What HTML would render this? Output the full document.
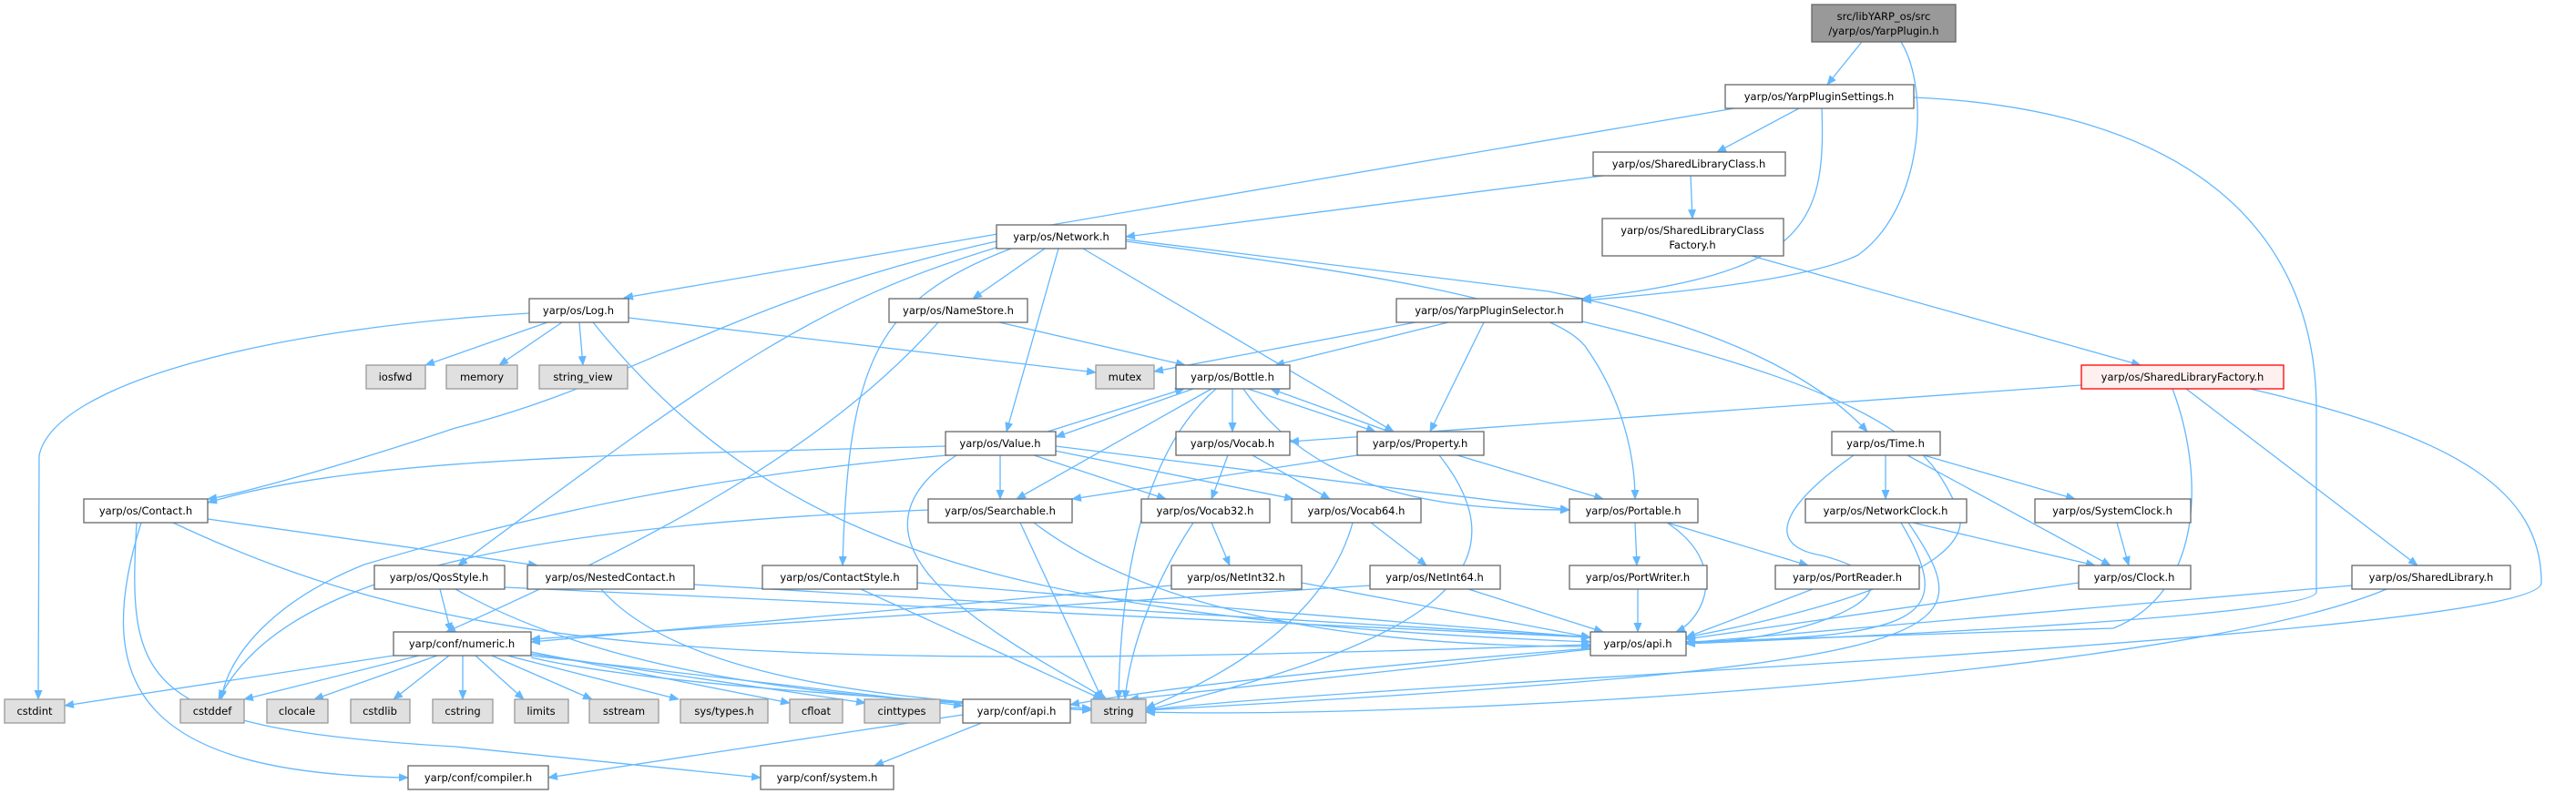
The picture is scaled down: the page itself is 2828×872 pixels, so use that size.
<!DOCTYPE html>
<html><head><meta charset="utf-8"><style>
html,body{margin:0;padding:0;background:#fff;}
svg{display:block;}
text{font-family:"DejaVu Sans","Liberation Sans",sans-serif;font-size:11.5px;fill:#000;text-anchor:middle;}
.e{fill:none;stroke:#63b8ff;stroke-width:1.3;marker-end:url(#a);}
.n{fill:#fff;stroke:#666;stroke-width:1.3;}
.g{fill:#e0e0e0;stroke:#999;stroke-width:1.3;}
</style></head><body>
<svg width="2828" height="872" viewBox="0 0 2828 872" xmlns="http://www.w3.org/2000/svg">
<defs><marker id="a" markerWidth="11" markerHeight="9" refX="10" refY="4.5" orient="auto" markerUnits="userSpaceOnUse"><path d="M0,0 L11,4.5 L0,9z" fill="#63b8ff"/></marker></defs>
<g>
<path class="e" d="M2044,46 L2006,93"/>
<path class="e" d="M2087,46 C2120,100 2110,230 2040,280 C1980,310 1800,325 1737,330"/>
<path class="e" d="M1904,119 L685,327"/>
<path class="e" d="M1975,119 L1885,167"/>
<path class="e" d="M2000,119 C2005,250 1980,300 1737,328"/>
<path class="e" d="M2101,107 C2400,120 2543,250 2543,450 L2543,650 C2543,680 1900,705 1851,707"/>
<path class="e" d="M1760,193 L1236,260"/>
<path class="e" d="M1856,193 L1858,240"/>
<path class="e" d="M1923,281 L2350,401"/>
<path class="e" d="M1094,265 C800,330 700,420 500,470 C350,520 250,545 228,548"/>
<path class="e" d="M1100,270 C900,330 800,400 503,621"/>
<path class="e" d="M1147,273 L1068,328"/>
<path class="e" d="M1162,273 L1105,474"/>
<path class="e" d="M1189,273 L1530,474"/>
<path class="e" d="M1236,265 C1500,300 1700,330 1740,380 C1790,450 1795,520 1795,548"/>
<path class="e" d="M1236,263 L1700,320 C1900,360 2000,420 2050,474"/>
<path class="e" d="M1110,273 C960,330 931,400 925,621"/>
<path class="e" d="M581,344 C300,360 60,420 43,500 L42,768"/>
<path class="e" d="M601,354 L467,401"/>
<path class="e" d="M617,354 L548,401"/>
<path class="e" d="M636,354 L640,401"/>
<path class="e" d="M690,349 L1203,409"/>
<path class="e" d="M651,354 C850,600 1100,680 1746,705"/>
<path class="e" d="M1097,354 L1301,401"/>
<path class="e" d="M1030,354 C900,500 700,600 490,694"/>
<path class="e" d="M1554,354 L1267,408"/>
<path class="e" d="M1590,354 L1400,401"/>
<path class="e" d="M1629,354 L1570,474"/>
<path class="e" d="M1737,353 C2100,440 2120,500 2150,560 C2180,640 1900,690 1851,700"/>
<path class="e" d="M2285,423 L1416,485"/>
<path class="e" d="M2385,427 C2420,520 2420,650 2320,690 L1851,705"/>
<path class="e" d="M2400,427 L2654,621"/>
<path class="e" d="M2470,427 C2700,480 2790,540 2790,640 C2790,700 1500,750 1258,780"/>
<path class="e" d="M1310,427 L1159,480"/>
<path class="e" d="M1150,474 L1300,427"/>
<path class="e" d="M1353,427 L1353,474"/>
<path class="e" d="M1370,427 L1510,474"/>
<path class="e" d="M1525,474 L1395,427"/>
<path class="e" d="M1330,427 L1116,548"/>
<path class="e" d="M1335,427 C1250,500 1230,650 1228,768"/>
<path class="e" d="M1365,427 C1450,550 1600,560 1723,560"/>
<path class="e" d="M1038,490 C700,500 400,500 228,552"/>
<path class="e" d="M1098,500 L1098,548"/>
<path class="e" d="M1135,500 L1280,548"/>
<path class="e" d="M1158,495 L1420,548"/>
<path class="e" d="M1159,490 L1723,560"/>
<path class="e" d="M1040,500 C800,520 600,560 400,620 C300,660 250,720 243,768"/>
<path class="e" d="M1050,500 C900,600 1100,700 1215,768"/>
<path class="e" d="M1348,500 L1330,548"/>
<path class="e" d="M1375,500 L1460,548"/>
<path class="e" d="M1490,500 L1177,548"/>
<path class="e" d="M1600,500 L1760,548"/>
<path class="e" d="M1580,500 C1700,650 1500,720 1258,780"/>
<path class="e" d="M2070,500 L2070,548"/>
<path class="e" d="M2112,500 L2278,548"/>
<path class="e" d="M2094,500 L2317,621"/>
<path class="e" d="M2035,500 C1950,560 1940,600 2000,610 C2150,650 1950,710 1851,705"/>
<path class="e" d="M228,570 L590,621"/>
<path class="e" d="M190,574 C500,720 800,740 1746,708"/>
<path class="e" d="M155,574 C100,750 150,850 448,854"/>
<path class="e" d="M150,574 C140,750 150,800 500,820 L835,854"/>
<path class="e" d="M1020,560 C500,580 300,650 240,768"/>
<path class="e" d="M1120,574 L1210,768"/>
<path class="e" d="M1135,574 C1300,700 1600,710 1746,710"/>
<path class="e" d="M1330,574 L1350,621"/>
<path class="e" d="M1310,574 C1260,650 1240,720 1235,768"/>
<path class="e" d="M1505,574 L1566,621"/>
<path class="e" d="M1485,574 C1450,700 1300,760 1258,778"/>
<path class="e" d="M1795,574 L1797,621"/>
<path class="e" d="M1830,574 L1985,621"/>
<path class="e" d="M1830,574 C1900,620 1870,680 1840,694"/>
<path class="e" d="M2100,574 L2300,621"/>
<path class="e" d="M2087,574 C2150,680 2110,700 1851,705"/>
<path class="e" d="M2095,574 C2180,700 2170,730 1258,780"/>
<path class="e" d="M2324,574 L2337,621"/>
<path class="e" d="M483,647 L495,694"/>
<path class="e" d="M554,645 L1746,700"/>
<path class="e" d="M500,647 C700,760 1000,770 1198,780"/>
<path class="e" d="M762,642 L1746,700"/>
<path class="e" d="M660,647 C750,750 1000,770 1198,780"/>
<path class="e" d="M1007,640 L1746,700"/>
<path class="e" d="M945,647 L1210,768"/>
<path class="e" d="M1286,643 L583,705"/>
<path class="e" d="M1429,640 L1746,700"/>
<path class="e" d="M1504,643 L583,702"/>
<path class="e" d="M1612,647 L1760,694"/>
<path class="e" d="M1798,647 L1798,694"/>
<path class="e" d="M1990,647 L1851,700"/>
<path class="e" d="M2282,640 L1851,702"/>
<path class="e" d="M2582,643 L1851,706"/>
<path class="e" d="M2620,647 C2400,740 1600,790 1258,782"/>
<path class="e" d="M432,720 L71,775"/>
<path class="e" d="M460,720 L268,768"/>
<path class="e" d="M480,720 L345,768"/>
<path class="e" d="M493,720 L432,768"/>
<path class="e" d="M508,720 L508,768"/>
<path class="e" d="M522,720 L575,768"/>
<path class="e" d="M540,720 L650,768"/>
<path class="e" d="M557,720 L745,768"/>
<path class="e" d="M583,716 L867,772"/>
<path class="e" d="M583,718 L950,772"/>
<path class="e" d="M583,720 L1057,775"/>
<path class="e" d="M583,722 C700,750 1000,770 1198,778"/>
<path class="e" d="M1746,713 L1240,768"/>
<path class="e" d="M1746,712 C1400,740 1250,760 1175,774"/>
<path class="e" d="M1057,785 L602,854"/>
<path class="e" d="M1080,793 L960,841"/>
</g>
<g>
<rect x="1989" y="5" width="158" height="41" fill="#999" stroke="#666" stroke-width="1.3"/>
<text x="2068" y="22">src/libYARP_os/src</text><text x="2068" y="38">/yarp/os/YarpPlugin.h</text>
<rect class="n" x="1894" y="93" width="207" height="26"/><text x="1997" y="110">yarp/os/YarpPluginSettings.h</text>
<rect class="n" x="1749" y="167" width="211" height="26"/><text x="1854" y="184">yarp/os/SharedLibraryClass.h</text>
<rect class="n" x="1759" y="240" width="199" height="41"/><text x="1858" y="257">yarp/os/SharedLibraryClass</text><text x="1858" y="273">Factory.h</text>
<rect class="n" x="1094" y="247" width="142" height="26"/><text x="1165" y="264">yarp/os/Network.h</text>
<rect class="n" x="581" y="328" width="109" height="26"/><text x="635" y="345">yarp/os/Log.h</text>
<rect class="n" x="976" y="328" width="152" height="26"/><text x="1052" y="345">yarp/os/NameStore.h</text>
<rect class="n" x="1533" y="328" width="204" height="26"/><text x="1635" y="345">yarp/os/YarpPluginSelector.h</text>
<rect class="g" x="402" y="401" width="65" height="26"/><text x="434" y="418">iosfwd</text>
<rect class="g" x="490" y="401" width="78" height="26"/><text x="529" y="418">memory</text>
<rect class="g" x="592" y="401" width="97" height="26"/><text x="640" y="418">string_view</text>
<rect class="g" x="1203" y="401" width="64" height="26"/><text x="1235" y="418">mutex</text>
<rect class="n" x="1291" y="401" width="125" height="26"/><text x="1353" y="418">yarp/os/Bottle.h</text>
<rect x="2285" y="401" width="222" height="26" fill="#fff0f0" stroke="#f00" stroke-width="1.3"/><text x="2396" y="418">yarp/os/SharedLibraryFactory.h</text>
<rect class="n" x="1038" y="474" width="121" height="26"/><text x="1098" y="491">yarp/os/Value.h</text>
<rect class="n" x="1291" y="474" width="125" height="26"/><text x="1353" y="491">yarp/os/Vocab.h</text>
<rect class="n" x="1490" y="474" width="139" height="26"/><text x="1559" y="491">yarp/os/Property.h</text>
<rect class="n" x="2011" y="474" width="119" height="26"/><text x="2070" y="491">yarp/os/Time.h</text>
<rect class="n" x="92" y="548" width="136" height="26"/><text x="160" y="565">yarp/os/Contact.h</text>
<rect class="n" x="1019" y="548" width="158" height="26"/><text x="1098" y="565">yarp/os/Searchable.h</text>
<rect class="n" x="1253" y="548" width="141" height="26"/><text x="1323" y="565">yarp/os/Vocab32.h</text>
<rect class="n" x="1418" y="548" width="142" height="26"/><text x="1489" y="565">yarp/os/Vocab64.h</text>
<rect class="n" x="1723" y="548" width="141" height="26"/><text x="1793" y="565">yarp/os/Portable.h</text>
<rect class="n" x="1982" y="548" width="177" height="26"/><text x="2070" y="565">yarp/os/NetworkClock.h</text>
<rect class="n" x="2234" y="548" width="171" height="26"/><text x="2319" y="565">yarp/os/SystemClock.h</text>
<rect class="n" x="411" y="621" width="143" height="26"/><text x="482" y="638">yarp/os/QosStyle.h</text>
<rect class="n" x="579" y="621" width="183" height="26"/><text x="670" y="638">yarp/os/NestedContact.h</text>
<rect class="n" x="837" y="621" width="170" height="26"/><text x="922" y="638">yarp/os/ContactStyle.h</text>
<rect class="n" x="1286" y="621" width="143" height="26"/><text x="1357" y="638">yarp/os/NetInt32.h</text>
<rect class="n" x="1504" y="621" width="143" height="26"/><text x="1575" y="638">yarp/os/NetInt64.h</text>
<rect class="n" x="1723" y="621" width="151" height="26"/><text x="1798" y="638">yarp/os/PortWriter.h</text>
<rect class="n" x="1949" y="621" width="158" height="26"/><text x="2028" y="638">yarp/os/PortReader.h</text>
<rect class="n" x="2282" y="621" width="123" height="26"/><text x="2343" y="638">yarp/os/Clock.h</text>
<rect class="n" x="2582" y="621" width="174" height="26"/><text x="2669" y="638">yarp/os/SharedLibrary.h</text>
<rect class="n" x="432" y="694" width="151" height="26"/><text x="507" y="711">yarp/conf/numeric.h</text>
<rect class="n" x="1746" y="694" width="105" height="26"/><text x="1798" y="711">yarp/os/api.h</text>
<rect class="g" x="5" y="768" width="66" height="26"/><text x="38" y="785">cstdint</text>
<rect class="g" x="198" y="768" width="70" height="26"/><text x="233" y="785">cstddef</text>
<rect class="g" x="293" y="768" width="67" height="26"/><text x="326" y="785">clocale</text>
<rect class="g" x="385" y="768" width="65" height="26"/><text x="417" y="785">cstdlib</text>
<rect class="g" x="475" y="768" width="66" height="26"/><text x="508" y="785">cstring</text>
<rect class="g" x="565" y="768" width="59" height="26"/><text x="594" y="785">limits</text>
<rect class="g" x="647" y="768" width="76" height="26"/><text x="685" y="785">sstream</text>
<rect class="g" x="747" y="768" width="96" height="26"/><text x="795" y="785">sys/types.h</text>
<rect class="g" x="867" y="768" width="58" height="26"/><text x="896" y="785">cfloat</text>
<rect class="g" x="949" y="768" width="83" height="26"/><text x="990" y="785">cinttypes</text>
<rect class="n" x="1057" y="768" width="118" height="26"/><text x="1116" y="785">yarp/conf/api.h</text>
<rect class="g" x="1198" y="768" width="60" height="26"/><text x="1228" y="785">string</text>
<rect class="n" x="448" y="841" width="154" height="26"/><text x="525" y="858">yarp/conf/compiler.h</text>
<rect class="n" x="835" y="841" width="146" height="26"/><text x="908" y="858">yarp/conf/system.h</text>
</g>
</svg>
</body></html>
